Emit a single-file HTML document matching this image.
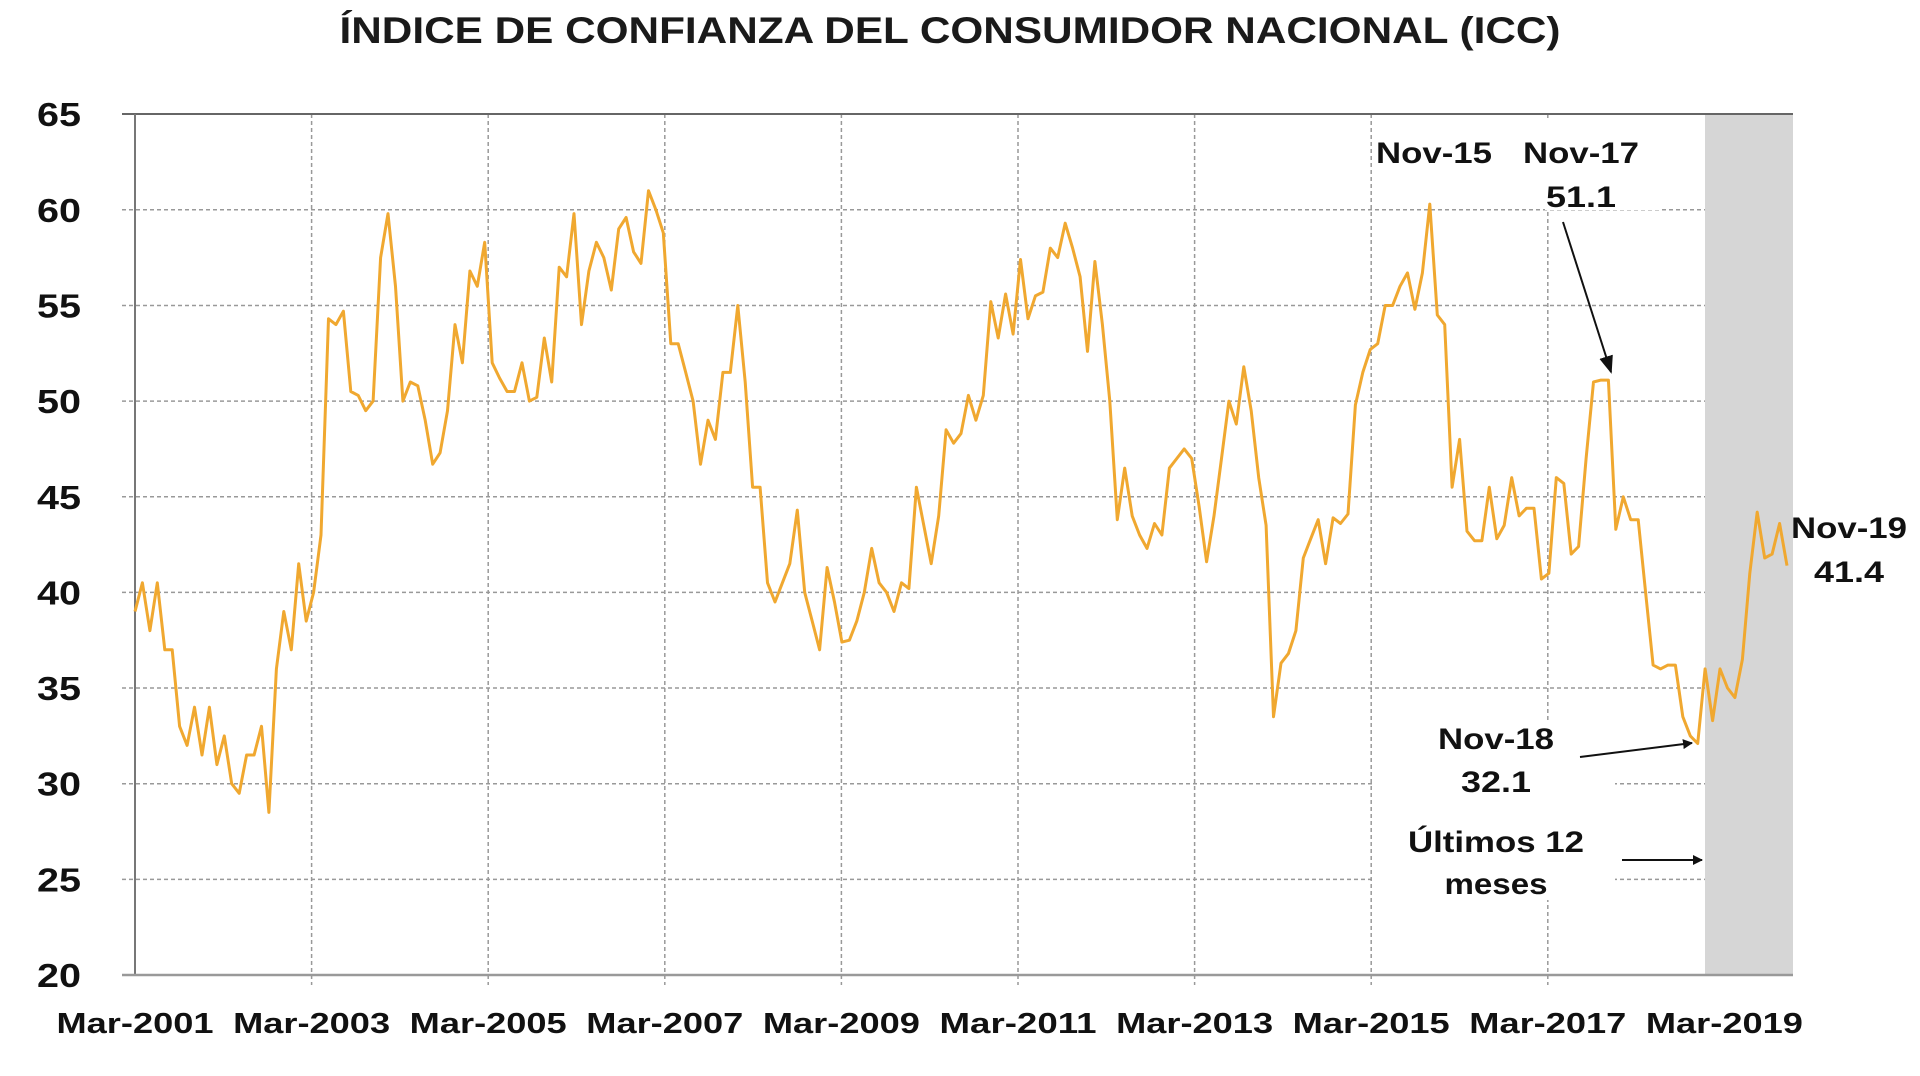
<!DOCTYPE html>
<html><head><meta charset="utf-8"><style>
html,body{margin:0;padding:0;background:#fff;}
svg{display:block;font-family:"Liberation Sans",sans-serif;font-weight:bold;}
</style></head><body>
<svg id="c" width="1920" height="1076" viewBox="0 0 1920 1076" xmlns="http://www.w3.org/2000/svg">
<defs><marker id="ar" markerWidth="10" markerHeight="10" refX="9" refY="5" orient="auto" markerUnits="userSpaceOnUse"><path d="M0,0 L10,5 L0,10 z" fill="#111"/></marker>
<marker id="ar2" markerWidth="18" markerHeight="18" refX="16" refY="9" orient="auto" markerUnits="userSpaceOnUse"><path d="M0,2 L18,9 L0,16 z" fill="#111"/></marker></defs>
<text x="950" y="43" font-size="37" text-anchor="middle" fill="#1a1a1a" textLength="1221" lengthAdjust="spacingAndGlyphs">ÍNDICE DE CONFIANZA DEL CONSUMIDOR NACIONAL (ICC)</text>
<rect x="1705" y="114" width="88" height="861" fill="#d6d6d6"/>
<g id="grid" stroke="#999" stroke-width="1.5" stroke-dasharray="4,3"></g>
<line x1="122" y1="114" x2="1793" y2="114" stroke="#666" stroke-width="2"/>
<line x1="135" y1="114" x2="135" y2="975" stroke="#777" stroke-width="2"/>
<line x1="122" y1="975" x2="1793" y2="975" stroke="#999" stroke-width="2.5"/>
<g id="ylab" font-size="33" fill="#111" text-anchor="end"></g>
<g id="xlab" font-size="29" fill="#111" text-anchor="middle"></g>
<path id="ln" fill="none" stroke="#F0A830" stroke-width="3" stroke-linejoin="round"/>
<rect x="1545" y="120" width="115" height="90" fill="#fff"/>
<rect x="1375" y="720" width="240" height="180" fill="#fff"/>
<g font-size="30" text-anchor="middle" fill="#111" lengthAdjust="spacingAndGlyphs">
<text x="1434" y="163" textLength="116" lengthAdjust="spacingAndGlyphs">Nov-15</text>
<text x="1581" y="163" textLength="116" lengthAdjust="spacingAndGlyphs">Nov-17</text>
<text x="1581" y="207" textLength="70" lengthAdjust="spacingAndGlyphs">51.1</text>
<text x="1849" y="538" textLength="116" lengthAdjust="spacingAndGlyphs">Nov-19</text>
<text x="1849" y="582" textLength="70" lengthAdjust="spacingAndGlyphs">41.4</text>
<text x="1496" y="749" textLength="116" lengthAdjust="spacingAndGlyphs">Nov-18</text>
<text x="1496" y="792" textLength="70" lengthAdjust="spacingAndGlyphs">32.1</text>
<text x="1496" y="852" textLength="176" lengthAdjust="spacingAndGlyphs">Últimos 12</text>
<text x="1496" y="894" textLength="103" lengthAdjust="spacingAndGlyphs">meses</text>
</g>
<line x1="1563" y1="222" x2="1611" y2="372" stroke="#111" stroke-width="2" marker-end="url(#ar2)"/>
<line x1="1580" y1="757" x2="1692" y2="743" stroke="#111" stroke-width="2" marker-end="url(#ar)"/>
<line x1="1622" y1="860" x2="1702" y2="860" stroke="#111" stroke-width="2" marker-end="url(#ar)"/>
</svg>
<script>
var NS="http://www.w3.org/2000/svg";
function el(t,a,p,txt){var e=document.createElementNS(NS,t);for(var k in a)e.setAttribute(k,a[k]);if(txt)e.textContent=txt;document.getElementById(p).appendChild(e);}
function Y(v){return 975-(v-20)*19.13;}
for(var v=20;v<=65;v+=5){el("text",{x:81,y:Y(v)+12,textLength:44,lengthAdjust:"spacingAndGlyphs"},"ylab",""+v);if(v>20&&v<65)el("line",{x1:122,y1:Y(v),x2:1705,y2:Y(v)},"grid");}
var yrs=[2001,2003,2005,2007,2009,2011,2013,2015,2017,2019];
for(var i=0;i<yrs.length;i++){var x=135+i*176.6;if(i>0&&i<9)el("line",{x1:x,y1:114,x2:x,y2:985},"grid");el("text",{x:x,y:1033,textLength:157,lengthAdjust:"spacingAndGlyphs"},"xlab","Mar-"+yrs[i]);}
var d=[39,40.5,38,40.5,37,37,33,32,34,31.5,34,31,32.5,30,29.5,31.5,31.5,33,28.5,36,39,37,41.5,38.5,40,43,54.3,54,54.7,50.5,50.3,49.5,50,57.5,59.8,56,50,51,50.8,49,46.7,47.3,49.5,54,52,56.8,56,58.3,52,51.2,50.5,50.5,52,50,50.2,53.3,51,57,56.5,59.8,54,56.8,58.3,57.5,55.8,59,59.6,57.8,57.2,61,60,58.8,53,53,51.5,50,46.7,49,48,51.5,51.5,55,51,45.5,45.5,40.5,39.5,40.5,41.5,44.3,40,38.5,37,41.3,39.5,37.4,37.5,38.5,40,42.3,40.5,40,39,40.5,40.2,45.5,43.5,41.5,44,48.5,47.8,48.3,50.3,49,50.3,55.2,53.3,55.6,53.5,57.4,54.3,55.5,55.7,58,57.5,59.3,58,56.5,52.6,57.3,54,50,43.8,46.5,44,43,42.3,43.6,43,46.5,47,47.5,47,44.5,41.6,44,47,50,48.8,51.8,49.5,46,43.5,33.5,36.3,36.8,38,41.8,42.8,43.8,41.5,43.9,43.6,44.1,49.8,51.5,52.7,53,55,55,56,56.7,54.8,56.7,60.3,54.5,54,45.5,48,43.2,42.7,42.7,45.5,42.8,43.5,46,44,44.4,44.4,40.7,41,46,45.7,42,42.4,47,51,51.1,51.1,43.3,45,43.8,43.8,40,36.2,36,36.2,36.2,33.5,32.5,32.1,36,33.3,36,35,34.5,36.5,41,44.2,41.8,42,43.6,41.4];
var n=d.length,s="";for(var i=0;i<n;i++){var x=135+i*(1787-135)/(n-1);s+=(i?"L":"M")+x.toFixed(1)+","+Y(d[i]).toFixed(1);}
document.getElementById("ln").setAttribute("d",s);
</script>
</body></html>
